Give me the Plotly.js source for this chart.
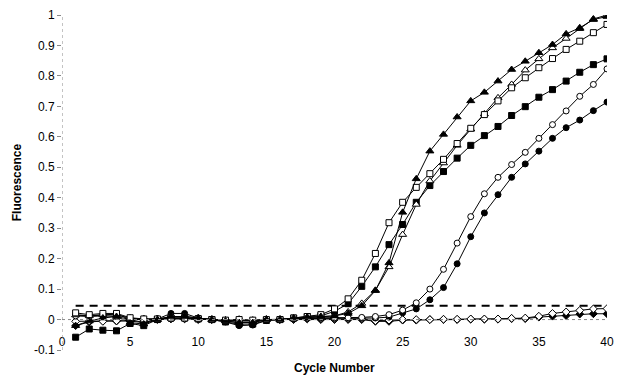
<!DOCTYPE html>
<html>
<head>
<meta charset="utf-8">
<script src="https://cdn.plot.ly/plotly-3.0.1.min.js"></script>
<style>html,body{margin:0;padding:0;background:#fff;}#chart{width:622px;height:380px;}</style>
</head>
<body>
<div id="chart"></div>
<script>
const cycles = [1,2,3,4,5,6,7,8,9,10,11,12,13,14,15,16,17,18,19,20,21,22,23,24,25,26,27,28,29,30,31,32,33,34,35,36,37,38,39,40];

const filledTriangle = [-0.02,-0.005,0.005,0.01,-0.01,-0.015,0.0,0.01,0.01,0.005,0.0,-0.005,-0.01,-0.01,0.0,0.0,0.005,0.008,0.01,0.012,0.02,0.045,0.095,0.186,0.352,0.462,0.553,0.608,0.665,0.718,0.746,0.783,0.821,0.848,0.876,0.903,0.938,0.958,0.985,0.995];
const openTriangle = [0.015,0.012,0.015,0.015,0.005,0.0,0.0,0.005,0.005,0.002,0.0,-0.003,-0.005,-0.005,0.0,0.0,0.003,0.005,0.008,0.012,0.025,0.053,0.096,0.173,0.279,0.378,0.455,0.514,0.572,0.625,0.675,0.728,0.772,0.819,0.856,0.892,0.923,0.955,0.987,1.0];
const openSquare = [0.022,0.016,0.02,0.02,0.006,0.002,0.002,0.005,0.005,0.003,0.0,-0.002,0.0,-0.002,0.0,0.0,0.005,0.01,0.016,0.035,0.068,0.129,0.217,0.318,0.385,0.434,0.479,0.526,0.578,0.628,0.673,0.718,0.761,0.794,0.827,0.857,0.887,0.914,0.942,0.969];
const filledSquare = [-0.058,-0.031,-0.035,-0.037,-0.013,-0.02,0.0,0.005,0.005,0.002,0.0,-0.008,-0.015,-0.015,-0.003,0.0,0.005,0.01,0.012,0.027,0.052,0.109,0.173,0.246,0.312,0.385,0.44,0.486,0.53,0.572,0.604,0.634,0.67,0.699,0.73,0.755,0.783,0.812,0.837,0.856];
const openCircle = [0.012,0.01,0.012,0.01,0.0,0.0,0.002,0.01,0.01,0.005,0.0,-0.002,-0.002,-0.004,0.0,0.0,0.003,0.005,0.006,0.006,0.006,0.007,0.01,0.016,0.031,0.055,0.1,0.165,0.251,0.338,0.413,0.467,0.509,0.549,0.595,0.64,0.685,0.733,0.772,0.823];
const filledCircle = [0.015,0.013,0.015,0.018,0.0,-0.01,0.002,0.02,0.02,0.005,0.0,-0.008,-0.02,-0.018,-0.003,0.0,0.002,0.004,0.004,0.004,0.004,0.004,0.005,0.008,0.022,0.035,0.065,0.105,0.183,0.272,0.35,0.41,0.467,0.511,0.553,0.595,0.63,0.655,0.686,0.714];
const openDiamond = [-0.006,-0.005,-0.006,-0.004,0.0,0.002,0.002,0.003,0.003,0.002,0.0,-0.003,0.0,-0.003,0.0,0.0,0.002,0.003,0.002,0.002,0.002,0.002,-0.004,-0.002,0.0,0.0,0.0,0.001,0.001,0.002,0.002,0.002,0.004,0.005,0.011,0.02,0.025,0.03,0.035,0.036];
const filledDiamond = [-0.02,-0.008,-0.005,-0.005,-0.005,-0.01,0.0,0.002,0.002,0.0,0.0,-0.005,-0.01,-0.01,0.0,0.0,0.0,0.002,0.0,0.0,0.0,0.0,-0.006,-0.006,-0.002,-0.002,0.0,0.0,0.0,0.001,0.001,0.001,0.003,0.003,0.008,0.011,0.013,0.018,0.019,0.019];
const threshold = [0.045,0.045,0.045,0.045,0.045,0.045,0.045,0.045,0.045,0.045,0.045,0.045,0.045,0.045,0.045,0.045,0.045,0.045,0.045,0.045,0.045,0.045,0.045,0.045,0.045,0.045,0.045,0.045,0.045,0.045,0.045,0.045,0.045,0.045,0.045,0.045,0.045,0.045,0.045,0.045];

const xTickVals = [0,5,10,15,20,25,30,35,40];
const xTickText = ['0','5','10','15','20','25','30','35','40'];
const yTickVals = [-0.1,0,0.1,0.2,0.3,0.4,0.5,0.6,0.7,0.8,0.9,1];
const yTickText = ['-0.1','0','0.1','0.2','0.3','0.4','0.5','0.6','0.7','0.8','0.9','1'];

function series(y, symbol, fill) {
  return {
    x: cycles, y: y, type: 'scatter', mode: 'lines+markers',
    line: {color: '#000', width: 1},
    marker: {symbol: symbol, size: symbol.indexOf('triangle') === 0 ? 7 : 6, color: fill, line: {color: '#000', width: 1}},
    hoverinfo: 'skip'
  };
}

const traces = [
  {x: cycles, y: threshold, type: 'scatter', mode: 'lines', line: {color: '#000', width: 2, dash: '8px,6px'}, hoverinfo: 'skip'},
  series(filledDiamond, 'diamond', '#000'),
  series(openDiamond, 'diamond', '#fff'),
  series(filledCircle, 'circle', '#000'),
  series(openCircle, 'circle', '#fff'),
  series(filledSquare, 'square', '#000'),
  series(openTriangle, 'triangle-up', '#fff'),
  series(openSquare, 'square', '#fff'),
  series(filledTriangle, 'triangle-up', '#000')
];

const font = {family: '"Liberation Sans", Arial, sans-serif', size: 12, color: '#000'};

const layout = {
  width: 622, height: 380,
  margin: {l: 62, r: 15, t: 15, b: 30, pad: 0},
  paper_bgcolor: '#fff', plot_bgcolor: '#fff',
  showlegend: false, hovermode: false,
  font: font,
  xaxis: {
    range: [0, 40], tickvals: xTickVals, ticktext: xTickText,
    showgrid: false, zeroline: false, showline: false,
    ticks: '', anchor: 'free', position: 0.0909,
    ticklabelstandoff: 13,
    tickfont: font
  },
  yaxis: {
    range: [-0.1, 1], tickvals: yTickVals, ticktext: yTickText,
    showgrid: false, zeroline: false, showline: false,
    ticks: 'outside', ticklen: 4, tickcolor: '#888', tickwidth: 1,
    tickfont: font
  },
  shapes: [
    {type: 'line', xref: 'x', yref: 'y', x0: 0, x1: 0, y0: -0.1, y1: 1, line: {color: '#888', width: 1, dash: 'dot'}},
    {type: 'line', xref: 'x', yref: 'y', x0: 0, x1: 40, y0: 0, y1: 0, line: {color: '#888', width: 1, dash: 'dot'}}
  ],
  annotations: [
    {text: '<b>Cycle Number</b>', xref: 'paper', yref: 'paper', x: 0.5, y: -0.055, xanchor: 'center', yanchor: 'middle', showarrow: false, font: {family: font.family, size: 12, color: '#000'}},
    {text: '<b>Fluorescence</b>', xref: 'paper', yref: 'paper', x: -0.083, y: 0.5, xanchor: 'center', yanchor: 'middle', textangle: -90, showarrow: false, font: {family: font.family, size: 12, color: '#000'}}
  ]
};

Plotly.newPlot('chart', traces, layout, {staticPlot: true, displayModeBar: false});
</script>
</body>
</html>
